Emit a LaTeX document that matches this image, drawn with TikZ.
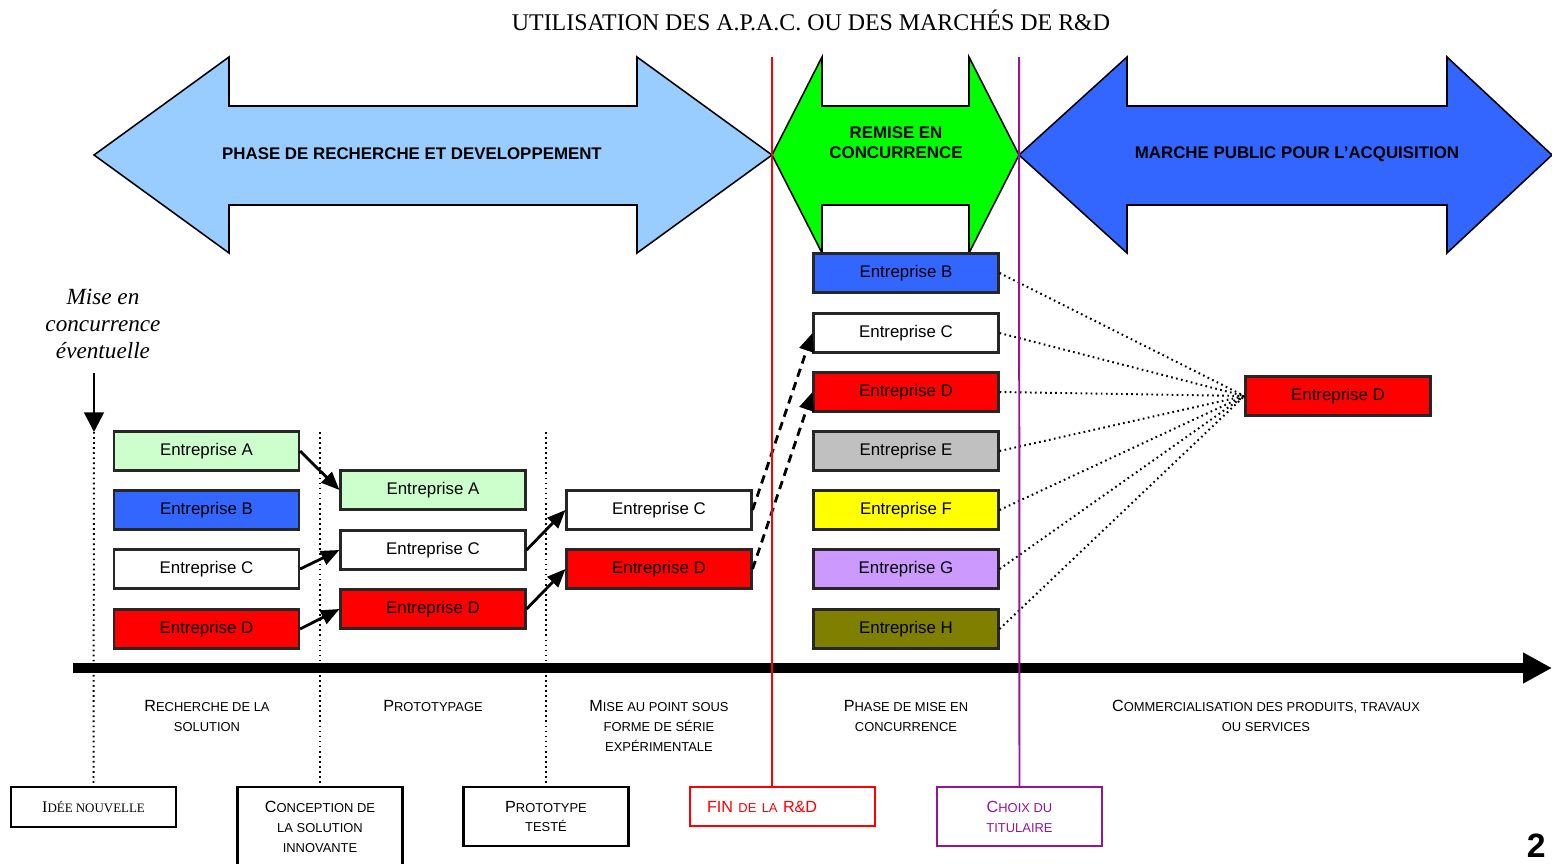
\documentclass[tikz,border=0pt]{standalone}
\usepackage{fontspec}
\setmainfont{Liberation Serif}
\setsansfont{Liberation Sans}
\usepackage{tikz}
\usetikzlibrary{arrows.meta,positioning}
\definecolor{bleuclair}{RGB}{153,204,255}
\definecolor{vertvif}{RGB}{0,255,0}
\definecolor{bleuvif}{RGB}{51,102,255}
\definecolor{vertpale}{RGB}{204,255,204}
\definecolor{grisent}{RGB}{192,192,192}
\definecolor{jauneent}{RGB}{255,255,0}
\definecolor{lavande}{RGB}{204,153,255}
\definecolor{kaki}{RGB}{128,128,0}
\definecolor{violetchoix}{RGB}{150,20,150}
\newcommand{\petit}[1]{{\fontsize{9.2}{14.2}\selectfont #1}}

\begin{document}
\begin{tikzpicture}[
  x=0.25mm, y=-0.25mm,
  every node/.style={font=\sffamily\fontsize{12}{14}\selectfont},
  grandefleche/.style={draw=black, line width=1.1pt, line join=miter},
  titrefleche/.style={font=\sffamily\bfseries\fontsize{12}{14.2}\selectfont, align=center},
  entbox/.style={draw=black!85, line width=1.5pt, minimum width=46.25mm,
                 minimum height=9.75mm, inner sep=0pt},
  jalon/.style={draw=black, line width=1.5pt, minimum width=41.25mm,
                inner sep=0pt, align=center,
                font=\sffamily\fontsize{11.5}{14.2}\selectfont},
  phaselbl/.style={align=center, font=\sffamily\fontsize{11.5}{14.2}\selectfont},
  fleche/.style={-{Triangle[length=13pt, width=10.5pt]}, line width=2pt},
  tiret/.style={-{Triangle[length=13pt, width=10.5pt]}, line width=2pt,
                dash pattern=on 6pt off 4pt},
  pointille/.style={line width=1.4pt, dash pattern=on 1.2pt off 2.4pt},
]
\useasboundingbox (0,0) rectangle (1552,864);
\clip (0,0) rectangle (1552,864);

%% ── Title ────────────────────────────────────────────────────────────────
\node[font=\rmfamily\fontsize{17}{20}\selectfont] (titre) at (811,20)
  {UTILISATION DES A.P.A.C. OU DES MARCHÉS DE R\&D};

%% ── Phase arrows ─────────────────────────────────────────────────────────
\draw[grandefleche, fill=bleuclair] (94,155) -- (229,57) -- (229,106)
  -- (637,106) -- (637,57) -- (772,155) -- (637,253) -- (637,205)
  -- (229,205) -- (229,253) -- cycle;
\draw[grandefleche, fill=vertvif] (772,155) -- (822,57) -- (822,106)
  -- (969,106) -- (969,57) -- (1019,155) -- (969,253) -- (969,205)
  -- (822,205) -- (822,253) -- cycle;
\draw[grandefleche, fill=bleuvif] (1019,155) -- (1127,57) -- (1127,106)
  -- (1447,106) -- (1447,57) -- (1552,155) -- (1447,253) -- (1447,205)
  -- (1127,205) -- (1127,253) -- cycle;
\node[titrefleche] (phaserd) at (412,154) {PHASE DE RECHERCHE ET DEVELOPPEMENT};
\node[titrefleche] (remise)  at (896,143) {REMISE EN\\CONCURRENCE};
\node[titrefleche] (marche)  at (1297,154) {MARCHE PUBLIC POUR L’ACQUISITION};

%% ── Mise en concurrence ──────────────────────────────────────────────────
\node[font=\rmfamily\itshape\fontsize{16.5}{19.2}\selectfont, align=center]
  (mise) at (103,324) {Mise en\\concurrence\\éventuelle};
\coordinate (mtop) at (94,373);
\coordinate (t0) at (94,432);
\coordinate (t1) at (320,432);
\coordinate (t2) at (546,432);
\draw[-{Triangle[length=14pt, width=14pt]}, line width=2pt] (mtop) -- (t0);

%% ── Column 1 ─────────────────────────────────────────────────────────────
\node[entbox, fill=vertpale] (a1) at (206.5,451) {Entreprise A};
\node[entbox, fill=bleuvif]  (b1) at (206.5,510) {Entreprise B};
\node[entbox, fill=white]    (c1) at (206.5,569) {Entreprise C};
\node[entbox, fill=red]      (d1) at (206.5,629) {Entreprise D};

%% ── Column 2 ─────────────────────────────────────────────────────────────
\node[entbox, fill=vertpale] (a2) at (433,490) {Entreprise A};
\node[entbox, fill=white]    (c2) at (433,550) {Entreprise C};
\node[entbox, fill=red]      (d2) at (433,609) {Entreprise D};

%% ── Column 3 ─────────────────────────────────────────────────────────────
\node[entbox, fill=white] (c3) at (659,510) {Entreprise C};
\node[entbox, fill=red]   (d3) at (659,569) {Entreprise D};

%% ── Column 4 (mise en concurrence) ───────────────────────────────────────
\foreach \n/\lab/\col/\y in {
  b4/B/bleuvif/273, c4/C/white/333, d4/D/red/392, e4/E/grisent/451,
  f4/F/jauneent/510, g4/G/lavande/569, h4/H/kaki/629} {
  \node[entbox, fill=\col] (\n) at (906,\y) {Entreprise \lab};
}

%% ── Titulaire ────────────────────────────────────────────────────────────
\node[entbox, fill=red] (dfin) at (1338,396) {Entreprise D};

%% ── Connections ──────────────────────────────────────────────────────────
\draw[fleche] (a1.east) -- (a2.west);
\draw[fleche] (c1.east) -- (c2.west);
\draw[fleche] (d1.east) -- (d2.west);
\draw[fleche] (c2.east) -- (c3.west);
\draw[fleche] (d2.east) -- (d3.west);
\draw[tiret] (c3.east) -- (c4.west);
\draw[tiret] (d3.east) -- (d4.west);
\foreach \n in {b4,c4,d4,e4,f4,g4,h4} {
  \draw[pointille] (\n.east) -- (dfin.west);
}

%% ── Time axis ────────────────────────────────────────────────────────────
\coordinate (ax0) at (73,668);
\coordinate (ax1) at (1552,668);
\draw[line width=7pt, -{Triangle[length=20.6pt, width=20.6pt]}] (ax0) -- (ax1);

%% ── Phase labels ─────────────────────────────────────────────────────────
\node[phaselbl] (p1) at (207,716) {R\petit{ECHERCHE DE LA}\\\petit{SOLUTION}};
\node[phaselbl] (p2) at (433,706) {P\petit{ROTOTYPAGE}};
\node[phaselbl] (p3) at (659,726)
  {M\petit{ISE AU POINT SOUS}\\\petit{FORME DE SÉRIE}\\\petit{EXPÉRIMENTALE}};
\node[phaselbl] (p4) at (906,716) {P\petit{HASE DE MISE EN}\\\petit{CONCURRENCE}};
\node[phaselbl] (p5) at (1266,716)
  {C\petit{OMMERCIALISATION DES PRODUITS, TRAVAUX}\\\petit{OU SERVICES}};

%% ── Milestones ───────────────────────────────────────────────────────────
\node[jalon, minimum height=10mm, font=\rmfamily\fontsize{11.5}{14.2}\selectfont]
  (idee) at (93.5,807) {I\petit{DÉE NOUVELLE}};
\node[jalon, minimum height=19.75mm] (concep) at (320,826.5)
  {C\petit{ONCEPTION DE}\\\petit{LA SOLUTION}\\\petit{INNOVANTE}};
\node[jalon, minimum height=14.75mm] (proto) at (546,816.5)
  {P\petit{ROTOTYPE}\\\petit{TESTÉ}};
\node[jalon, draw=red, text=red, minimum width=46.25mm, minimum height=9.75mm,
      text width=37.75mm, align=left] (fin) at (782.5,806.5)
  {FIN \petit{DE LA} R\&D};
\node[jalon, draw=violetchoix, text=violetchoix, minimum height=14.75mm]
  (choix) at (1019.5,816.5) {C\petit{HOIX DU}\\\petit{TITULAIRE}};

%% Milestone lines
\draw[pointille] (t0) -- (idee.north);
\draw[pointille] (t1) -- (concep.north);
\draw[pointille] (t2) -- (proto.north);
\coordinate (rtop) at (772,57);
\coordinate (vtop) at (1019,57);
\draw[red, line width=1.4pt] (rtop) -- (rtop |- fin.north);
\draw[violetchoix, line width=1.4pt] (vtop) -- (choix.north);

%% Page number
\node[anchor=north east, inner sep=0pt,
      font=\sffamily\bfseries\fontsize{24}{24}\selectfont] (page) at (1546,834) {2};

\end{tikzpicture}
\end{document}
